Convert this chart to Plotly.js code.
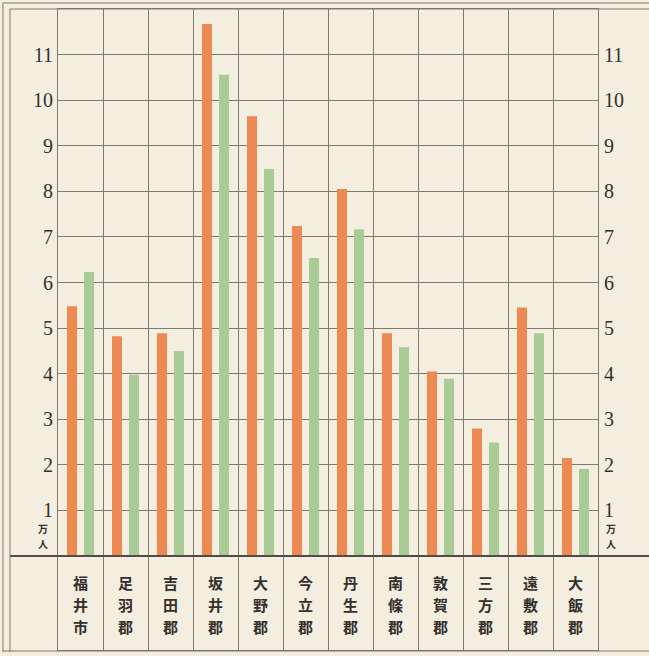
<!DOCTYPE html>
<html>
<head>
<meta charset="utf-8">
<script src="https://cdn.plot.ly/plotly-3.0.1.min.js"></script>
<style>
html,body{margin:0;padding:0;background:#f3eee0;}
#chart{width:649px;height:656px;}
</style>
</head>
<body>
<div id="chart"></div>
<script>
// Categories (districts of Fukui)
const categories = ["福井市","足羽郡","吉田郡","坂井郡","大野郡","今立郡","丹生郡","南條郡","敦賀郡","三方郡","遠敷郡","大飯郡"];
// Series values (万人)
const seriesOrange = [5.48, 4.82, 4.89, 11.67, 9.65, 7.24, 8.05, 4.89, 4.05, 2.80, 5.45, 2.15];
const seriesGreen  = [6.23, 3.98, 4.50, 10.56, 8.49, 6.54, 7.17, 4.58, 3.89, 2.49, 4.89, 1.91];
// Tick values / labels
const tickValues = [1,2,3,4,5,6,7,8,9,10,11];
const tickLabels = ["1","2","3","4","5","6","7","8","9","10","11"];
const unitLabel = "万人";

const orange = "rgb(237,138,84)";
const green = "rgb(169,204,151)";
const bg = "#f3eee0";
const gridCol = "rgb(128,121,110)";
const textCol = "#35302b";

const traces = [
  {type:"bar", x:categories, y:seriesOrange, marker:{color:orange, line:{width:0}}, hoverinfo:"skip", showlegend:false},
  {type:"bar", x:categories, y:seriesGreen, marker:{color:green, line:{width:0}}, hoverinfo:"skip", showlegend:false},
  // empty trace so the right-hand axis is drawn
  {type:"scatter", x:[], y:[], yaxis:"y2", mode:"markers", hoverinfo:"skip", showlegend:false}
];

const yRange = [-2.06, 12.0];
const numFont = {family:"Liberation Serif, DejaVu Serif, serif", size:20, color:textCol};
const cjk = "Noto Sans CJK JP";

const annotations = [];
categories.forEach(c => {
  const chars = c.split("");
  chars.forEach((ch, i) => {
    annotations.push({
      x:c, y:-1.07, xref:"x", yref:"y", yshift:(1 - i) * 22,
      text:ch, showarrow:false,
      font:{family:cjk, size:15, color:textCol, weight:"bold"},
      xanchor:"center", yanchor:"middle"
    });
  });
});
[-0.028, 1.024].forEach(px => {
  unitLabel.split("").forEach((ch, i) => {
    annotations.push({x:px, y:0.44, xref:"paper", yref:"y", yshift:(0.5 - i) * 15, text:ch, showarrow:false,
      font:{family:cjk, size:10, color:textCol, weight:"bold"}, xanchor:"center", yanchor:"middle"});
  });
});

const shapes = [
  // baseline across the full width
  {type:"line", xref:"paper", yref:"y", x0:-0.0889, x1:1.1, y0:0, y1:0, line:{color:"rgb(80,75,68)", width:2}},
  // outer frame lines
  {type:"line", xref:"paper", yref:"paper", x0:-0.0889, x1:-0.0889, y0:-0.003, y1:1.0, line:{color:gridCol, width:1}},
  {type:"line", xref:"paper", yref:"paper", x0:-0.1019, x1:-0.1019, y0:-0.003, y1:1.0094, line:{color:gridCol, width:1}},
  {type:"line", xref:"paper", yref:"paper", x0:-0.0889, x1:1.1, y0:1.0, y1:1.0, line:{color:gridCol, width:1}},
  {type:"line", xref:"paper", yref:"paper", x0:-0.1019, x1:1.1, y0:1.0094, y1:1.0094, line:{color:gridCol, width:1}},
  {type:"line", xref:"paper", yref:"paper", x0:-0.1019, x1:1.1, y0:-0.0016, y1:-0.0016, line:{color:gridCol, width:1}}
];

const layout = {
  width:649, height:656,
  margin:{l:58, r:51, t:9, b:6},
  paper_bgcolor:bg, plot_bgcolor:bg,
  barmode:"group", bargap:0.244, bargroupgap:0.41,
  showlegend:false,
  xaxis:{
    type:"category", tickson:"boundaries", showgrid:true, gridcolor:gridCol, gridwidth:1,
    showticklabels:false, ticks:"", showline:true, mirror:true, linecolor:gridCol, linewidth:1,
    zeroline:false, fixedrange:true
  },
  yaxis:{
    range:yRange, tickvals:tickValues, ticktext:tickLabels, showgrid:true, gridcolor:gridCol, gridwidth:1,
    zeroline:false, showline:true, mirror:true, linecolor:gridCol, linewidth:1,
    ticks:"", tickfont:numFont, ticklabelstandoff:0, fixedrange:true
  },
  yaxis2:{
    overlaying:"y", side:"right", range:yRange, tickvals:tickValues, ticktext:tickLabels,
    showgrid:false, zeroline:false, showline:false, ticks:"", tickfont:numFont, ticklabelstandoff:5, fixedrange:true
  },
  annotations:annotations,
  shapes:shapes
};

Plotly.newPlot("chart", traces, layout, {displayModeBar:false, staticPlot:true});
</script>
</body>
</html>
